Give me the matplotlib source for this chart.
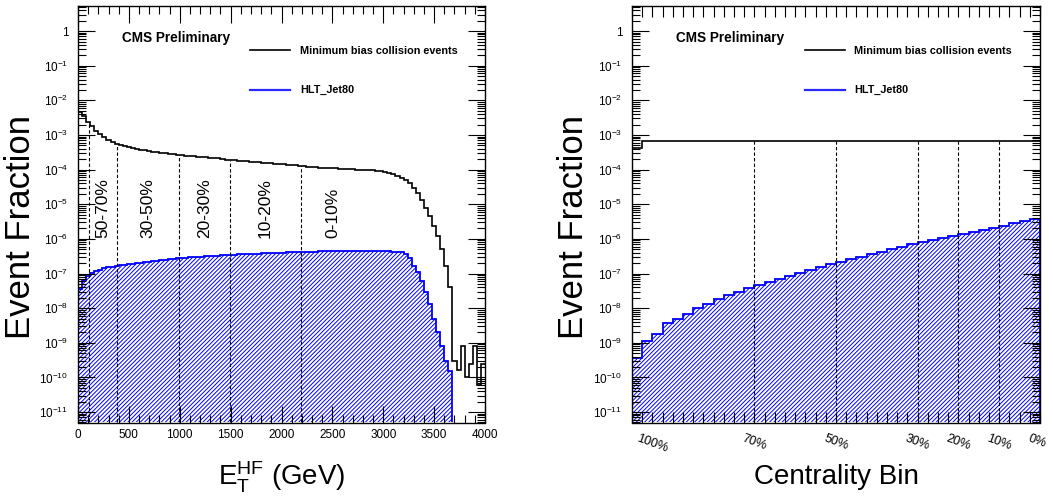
import numpy as np
import matplotlib
matplotlib.use("Agg")
import matplotlib.pyplot as plt
from matplotlib.lines import Line2D
from matplotlib.ticker import LogLocator, MultipleLocator, NullFormatter, FuncFormatter
from matplotlib.transforms import ScaledTranslation

plt.rcParams["font.family"] = ["Liberation Sans", "DejaVu Sans"]
plt.rcParams["mathtext.default"] = "regular"
plt.rcParams["hatch.linewidth"] = 0.7

# E_T^HF distribution, 40 GeV bins from 0 to 4000 GeV
et_edges = np.arange(0, 4001, 40)
minbias_et = [
    4.7e-3, 3.5e-3, 2.4e-3, 1.8e-3, 1.3e-3, 1.05e-3, 8.7e-4, 7.4e-4, 6.3e-4, 5.5e-4,
    5.0e-4, 4.7e-4, 4.4e-4, 4.2e-4, 4.0e-4, 3.8e-4, 3.6e-4, 3.5e-4, 3.3e-4, 3.2e-4,
    3.0e-4, 2.95e-4, 2.8e-4, 2.75e-4, 2.7e-4, 2.6e-4, 2.5e-4, 2.45e-4, 2.4e-4, 2.35e-4,
    2.3e-4, 2.25e-4, 2.2e-4, 2.15e-4, 2.1e-4, 2.0e-4, 1.95e-4, 1.9e-4, 1.85e-4, 1.82e-4,
    1.78e-4, 1.74e-4, 1.7e-4, 1.66e-4, 1.62e-4, 1.58e-4, 1.55e-4, 1.51e-4, 1.48e-4, 1.45e-4,
    1.41e-4, 1.38e-4, 1.35e-4, 1.32e-4, 1.29e-4, 1.26e-4, 1.23e-4, 1.2e-4, 1.17e-4, 1.15e-4,
    1.13e-4, 1.12e-4, 1.1e-4, 1.08e-4, 1.07e-4, 1.05e-4, 1.04e-4, 1.02e-4, 1.0e-4, 9.9e-5,
    9.8e-5, 9.6e-5, 9.5e-5, 9.3e-5, 9.1e-5, 8.7e-5, 8.1e-5, 7.4e-5, 6.6e-5, 5.8e-5,
    4.9e-5, 4.0e-5, 3.0e-5, 2.1e-5, 1.3e-5, 7.9e-6, 4.5e-6, 2.4e-6, 1.2e-6, 5e-7,
    1.6e-7, 4e-8, 3e-10, 1.6e-10, 8e-10, 1e-10, 2.5e-10, 8e-10, 6e-11, 2.5e-10,
]
# HLT_Jet80, empty above 3680 GeV
jet80_et = [
    3.5e-8, 6.3e-8, 8.5e-8, 1.05e-7, 1.2e-7, 1.3e-7, 1.4e-7, 1.5e-7, 1.58e-7, 1.65e-7,
    1.72e-7, 1.8e-7, 1.87e-7, 1.94e-7, 2.0e-7, 2.07e-7, 2.13e-7, 2.2e-7, 2.25e-7, 2.3e-7,
    2.45e-7, 2.52e-7, 2.6e-7, 2.68e-7, 2.75e-7, 2.82e-7, 2.88e-7, 2.94e-7, 3.0e-7, 3.05e-7,
    3.1e-7, 3.15e-7, 3.2e-7, 3.25e-7, 3.3e-7, 3.35e-7, 3.4e-7, 3.45e-7, 3.5e-7, 3.55e-7,
    3.6e-7, 3.65e-7, 3.7e-7, 3.74e-7, 3.78e-7, 3.82e-7, 3.86e-7, 3.9e-7, 3.94e-7, 3.98e-7,
    4.02e-7, 4.06e-7, 4.1e-7, 4.14e-7, 4.18e-7, 4.22e-7, 4.25e-7, 4.28e-7, 4.31e-7, 4.34e-7,
    4.36e-7, 4.38e-7, 4.4e-7, 4.42e-7, 4.43e-7, 4.44e-7, 4.45e-7, 4.46e-7, 4.46e-7, 4.46e-7,
    4.46e-7, 4.45e-7, 4.45e-7, 4.44e-7, 4.42e-7, 4.38e-7, 4.35e-7, 4.3e-7, 4.2e-7, 4.1e-7,
    3.7e-7, 2.8e-7, 1.7e-7, 1.1e-7, 6e-8, 3e-8, 1.3e-8, 5e-9, 2e-9, 8e-10,
    3e-10, 1.5e-10,
]

# centrality, 40 bins of 2.5%
cent_edges = np.arange(0, 41)
minbias_cent = [
    4.1e-4, 6.7e-4, 6.7e-4, 6.6e-4, 6.7e-4, 6.6e-4, 6.7e-4, 6.6e-4, 6.6e-4, 6.7e-4,
    6.6e-4, 6.7e-4, 6.5e-4, 6.6e-4, 6.6e-4, 6.7e-4, 6.6e-4, 6.6e-4, 6.7e-4, 6.6e-4,
    6.5e-4, 6.6e-4, 6.6e-4, 6.7e-4, 6.7e-4, 6.6e-4, 6.6e-4, 6.7e-4, 6.6e-4, 6.6e-4,
    6.6e-4, 6.7e-4, 6.6e-4, 6.6e-4, 6.7e-4, 6.6e-4, 6.6e-4, 6.7e-4, 6.6e-4, 6.7e-4,
]
jet80_cent = [
    3.7e-10, 1.1e-9, 1.8e-9, 3.7e-9, 4.9e-9, 6.9e-9, 1.0e-8, 1.3e-8, 1.8e-8, 2.4e-8,
    2.95e-8, 3.9e-8, 4.6e-8, 5.8e-8, 6.9e-8, 8.5e-8, 1.07e-7, 1.3e-7, 1.56e-7, 1.9e-7,
    2.2e-7, 2.6e-7, 3.1e-7, 3.7e-7, 4.3e-7, 5.0e-7, 6.0e-7, 7.0e-7, 7.9e-7, 9.3e-7,
    1.07e-6, 1.23e-6, 1.4e-6, 1.6e-6, 1.8e-6, 2.1e-6, 2.4e-6, 2.8e-6, 3.2e-6, 3.7e-6,
]

et_cuts = [110, 380, 990, 1490, 2190]
et_cut_labels = ["50-70%", "30-50%", "20-30%", "10-20%", "0-10%"]
et_label_pos = [245, 685, 1240, 1840, 2500]

cent_ticks = [0, 12, 20, 28, 32, 36, 40]
cent_tick_labels = ["100%", "70%", "50%", "30%", "20%", "10%", "0%"]
cent_cuts = [12, 20, 28, 32, 36]

legend_labels = ["Minimum bias collision events", "HLT_Jet80"]

ymin, ymax = 5e-12, 5.3
W, H = 1053, 497


def log_label(v, pos):
    if abs(v - 1) < 1e-9:
        return "1"
    return r"$10^{%d}$" % round(np.log10(v))


def style_axes(ax):
    ax.set_yscale("log")
    ax.set_ylim(ymin, ymax)
    ax.yaxis.set_major_locator(LogLocator(base=10, numticks=30))
    ax.yaxis.set_minor_locator(LogLocator(base=10, subs=np.arange(2, 10), numticks=30))
    ax.yaxis.set_major_formatter(FuncFormatter(log_label))
    ax.yaxis.set_minor_formatter(NullFormatter())
    ax.tick_params(which="both", direction="in", top=True, right=True,
                   labelsize=8.5, width=0.8)
    ax.tick_params(which="major", length=12)
    ax.tick_params(which="minor", length=6)
    ax.tick_params(axis="y", pad=7)
    ax.tick_params(axis="x", pad=5)
    for s in ax.spines.values():
        s.set_linewidth(1.0)
    ax.set_ylabel("Event Fraction", fontsize=25, va="center")
    ax.yaxis.set_label_coords(-0.1425, 0.47)

    ax.text(0.108, 0.923, "CMS Preliminary", transform=ax.transAxes,
            fontsize=9.8, fontweight="bold", va="center", ha="left")
    handles = [Line2D([], [], color="black", lw=1.2),
               Line2D([], [], color="#2a2aff", lw=1.6)]
    ax.legend(handles, legend_labels, loc="upper left",
              bbox_to_anchor=(0.423, 0.905), frameon=False,
              prop={"weight": "bold", "size": 7.8}, handlelength=3.7,
              handletextpad=0.9, labelspacing=2.75, borderpad=0,
              borderaxespad=0)


fig = plt.figure(figsize=(W / 100, H / 100), dpi=100)
ax1 = fig.add_axes([78 / W, 74.5 / H, 407 / W, 416.5 / H])
ax2 = fig.add_axes([632 / W, 74.5 / H, 408 / W, 416.5 / H])

# left: E_T^HF
ax1.stairs(jet80_et, et_edges[:len(jet80_et) + 1], baseline=ymin, fill=True,
           facecolor="none", edgecolor="blue", hatch="////////", linewidth=1.3)
ax1.stairs(minbias_et, et_edges, baseline=None, color="black", linewidth=1.2)
for x in et_cuts:
    top = minbias_et[int(x // 40)]
    ax1.vlines(x, ymin, top, colors="black", linestyles=(0, (3, 2)), linewidth=0.8)
for xp, lab in zip(et_label_pos, et_cut_labels):
    ax1.text(xp, 1.05e-6, lab, rotation=90, rotation_mode="anchor",
             ha="left", va="center", fontsize=12.5)
ax1.set_xlim(0, 4000)
ax1.xaxis.set_major_locator(MultipleLocator(500))
ax1.xaxis.set_minor_locator(MultipleLocator(100))
style_axes(ax1)
ax1.set_xlabel(r"$E_{T}^{HF}$ (GeV)", fontsize=20, va="center")
ax1.xaxis.set_label_coords(0.5, -0.132)

# right: centrality
ax2.stairs(jet80_cent, cent_edges, baseline=ymin, fill=True,
           facecolor="none", edgecolor="blue", hatch="////////", linewidth=1.3)
ax2.stairs(minbias_cent, cent_edges, baseline=None, color="black", linewidth=1.2)
for c in cent_cuts:
    ax2.vlines(c, ymin, minbias_cent[c], colors="black",
               linestyles=(0, (3, 2)), linewidth=0.8)
ax2.set_xlim(0, 40)
style_axes(ax2)
ax2.set_xticks(cent_ticks)
ax2.set_xticklabels(cent_tick_labels, rotation=-20, ha="left",
                    rotation_mode="anchor", fontsize=9)
ax2.xaxis.set_minor_locator(MultipleLocator(1))
ax2.tick_params(axis="x", which="major", length=8, pad=7.5)
ax2.tick_params(axis="x", which="minor", length=8)
# first label sits right of its tick, the others slightly left
for i, lab in enumerate(ax2.get_xticklabels()):
    dx = 5 if i == 0 else -7
    lab.set_transform(lab.get_transform()
                      + ScaledTranslation(dx / 72, 0, fig.dpi_scale_trans))
ax2.set_xlabel("Centrality Bin", fontsize=20, va="center")
ax2.xaxis.set_label_coords(0.5, -0.132)

fig.savefig("out.png", dpi=100)
